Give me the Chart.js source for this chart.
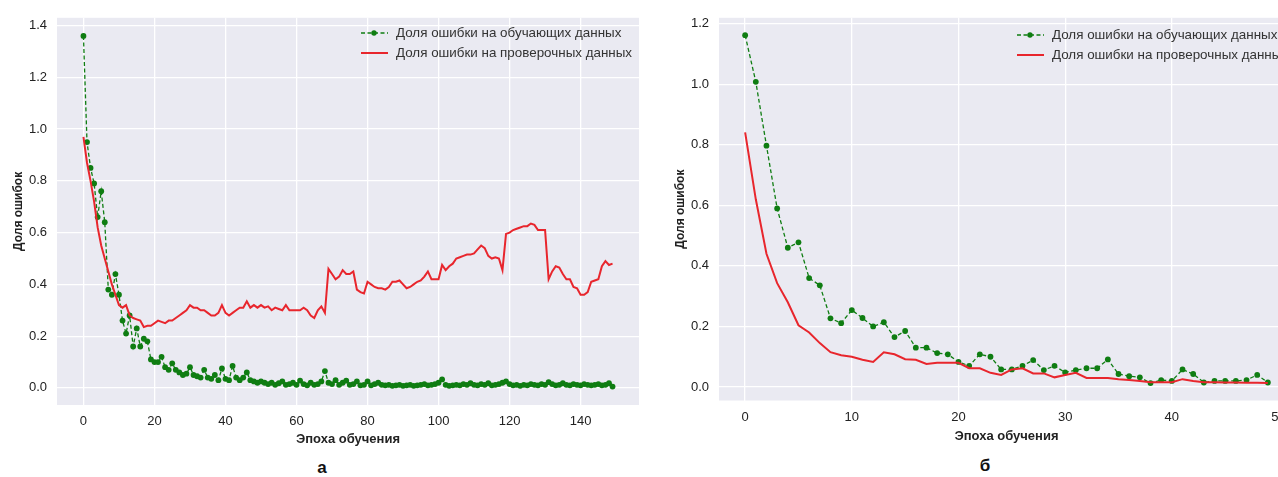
<!DOCTYPE html>
<html>
<head>
<meta charset="utf-8">
<script src="https://cdn.jsdelivr.net/npm/chart.js@4.4.1/dist/chart.umd.min.js"></script>
<style>
  body { margin: 0; width: 1278px; height: 477px; overflow: hidden; background: #fff; position: relative;
         font-family: "Liberation Sans", Arial, sans-serif; }
  canvas { position: absolute; top: 0; }
  .legend { position: absolute; font-size: 13.4px; color: #333; white-space: nowrap; }
  .legend div { height: 20px; line-height: 20px; }
  .legend svg { vertical-align: middle; margin-right: 8px; }
  .cap { position: absolute; font-weight: bold; font-size: 17px; color: #111; transform: translate(-50%, -50%); }
</style>
</head>
<body>
<canvas id="chartA" width="650" height="450" style="left:0px"></canvas>
<canvas id="chartB" width="650" height="450" style="left:660px"></canvas>
<div class="legend" id="legendA" style="left:361px;top:23px"></div>
<div class="legend" id="legendB" style="left:1017px;top:25px"></div>
<div class="cap" style="left:322px;top:468px">а</div>
<div class="cap" style="left:985px;top:466px">б</div>

<script>
var trainLabel = "Доля ошибки на обучающих данных";
var valLabel = "Доля ошибки на проверочных данных";
var xTitle = "Эпоха обучения";
var yTitle = "Доля ошибок";

// (а) 150 epochs
var trainA = [1.36, 0.95, 0.85, 0.79, 0.66, 0.76, 0.64, 0.38, 0.36, 0.44,
  0.36, 0.26, 0.21, 0.28, 0.16, 0.23, 0.16, 0.19, 0.18, 0.11,
  0.10, 0.10, 0.12, 0.08, 0.07, 0.095, 0.07, 0.06, 0.05, 0.055,
  0.08, 0.05, 0.045, 0.04, 0.07, 0.04, 0.035, 0.05, 0.03, 0.075,
  0.035, 0.03, 0.085, 0.04, 0.03, 0.04, 0.06, 0.03, 0.025, 0.02,
  0.025, 0.02, 0.015, 0.02, 0.012, 0.018, 0.025, 0.012, 0.015, 0.02,
  0.012, 0.028, 0.015, 0.01, 0.02, 0.012, 0.015, 0.025, 0.065, 0.02,
  0.015, 0.03, 0.012, 0.02, 0.028, 0.012, 0.015, 0.025, 0.01, 0.012,
  0.025, 0.01, 0.015, 0.02, 0.012, 0.01, 0.012, 0.008, 0.01, 0.012,
  0.008, 0.01, 0.012, 0.008, 0.01, 0.012, 0.015, 0.01, 0.012, 0.015,
  0.02, 0.033, 0.012, 0.008, 0.01, 0.012, 0.01, 0.015, 0.012, 0.018,
  0.012, 0.01, 0.015, 0.012, 0.018, 0.01, 0.012, 0.015, 0.02, 0.025,
  0.015, 0.01, 0.012, 0.008, 0.012, 0.01, 0.015, 0.012, 0.01, 0.015,
  0.012, 0.022, 0.015, 0.01, 0.012, 0.018, 0.012, 0.01, 0.015, 0.012,
  0.01, 0.015, 0.012, 0.01, 0.012, 0.015, 0.01, 0.012, 0.018, 0.005];
var valA = [0.97, 0.87, 0.80, 0.72, 0.62, 0.55, 0.50, 0.45, 0.40, 0.36,
  0.32, 0.31, 0.32, 0.28, 0.27, 0.265, 0.26, 0.235, 0.24, 0.24,
  0.25, 0.26, 0.255, 0.25, 0.26, 0.26, 0.27, 0.28, 0.29, 0.30,
  0.32, 0.31, 0.31, 0.30, 0.30, 0.29, 0.28, 0.28, 0.29, 0.32,
  0.29, 0.28, 0.29, 0.30, 0.31, 0.31, 0.335, 0.31, 0.32, 0.31,
  0.32, 0.31, 0.315, 0.30, 0.31, 0.305, 0.30, 0.32, 0.30, 0.30,
  0.30, 0.30, 0.31, 0.30, 0.28, 0.27, 0.30, 0.315, 0.29, 0.46,
  0.44, 0.42, 0.43, 0.455, 0.44, 0.44, 0.45, 0.38, 0.37, 0.365,
  0.41, 0.40, 0.39, 0.385, 0.385, 0.38, 0.39, 0.41, 0.41, 0.415,
  0.40, 0.385, 0.39, 0.40, 0.41, 0.415, 0.43, 0.45, 0.42, 0.42,
  0.42, 0.475, 0.455, 0.47, 0.48, 0.50, 0.505, 0.51, 0.515, 0.515,
  0.52, 0.535, 0.55, 0.54, 0.51, 0.50, 0.505, 0.50, 0.455, 0.595,
  0.60, 0.61, 0.615, 0.62, 0.625, 0.625, 0.635, 0.63, 0.61, 0.61,
  0.61, 0.42, 0.45, 0.47, 0.465, 0.44, 0.42, 0.42, 0.39, 0.385,
  0.36, 0.36, 0.37, 0.41, 0.415, 0.42, 0.47, 0.49, 0.475, 0.48];

// (б) 50 epochs
var trainB = [1.162, 1.008, 0.797, 0.59, 0.46, 0.478, 0.36, 0.336, 0.227, 0.211,
  0.254, 0.228, 0.2, 0.214, 0.165, 0.185, 0.13, 0.13, 0.112, 0.108,
  0.083, 0.07, 0.108, 0.1, 0.058, 0.058, 0.07, 0.089, 0.056, 0.07,
  0.048, 0.056, 0.062, 0.062, 0.091, 0.043, 0.036, 0.032, 0.013, 0.023,
  0.02, 0.058, 0.043, 0.015, 0.02, 0.02, 0.02, 0.023, 0.04, 0.015];
var valB = [0.841, 0.62, 0.44, 0.343, 0.28, 0.204, 0.18, 0.145, 0.115, 0.105,
  0.1, 0.09, 0.083, 0.115, 0.108, 0.092, 0.09, 0.076, 0.08, 0.08,
  0.08, 0.062, 0.062, 0.047, 0.04, 0.058, 0.062, 0.045, 0.045, 0.032,
  0.04, 0.047, 0.03, 0.03, 0.03, 0.026, 0.023, 0.02, 0.016, 0.016,
  0.016, 0.026, 0.02, 0.016, 0.016, 0.015, 0.015, 0.014, 0.014, 0.013];

var epochsA = trainA.map(function (v, i) { return i; });
var epochsB = trainB.map(function (v, i) { return i; });

var green = '#0f7d12';
var red = '#e8262d';
var tickFont = { family: '"Liberation Sans", Arial, sans-serif', size: 13 };
var titleFont = { family: '"Liberation Sans", Arial, sans-serif', size: 13, weight: 'bold' };

// seaborn-like grey plot background
var plotBg = {
  id: 'plotBg',
  beforeDraw: function (chart) {
    var a = chart.chartArea, c = chart.ctx;
    c.save();
    c.fillStyle = '#eaeaf2';
    c.fillRect(a.left, a.top, a.right - a.left, a.bottom - a.top);
    c.restore();
  }
};

function points(xs, ys) {
  return ys.map(function (v, i) { return { x: xs[i], y: v }; });
}

function makeChart(id, xs, train, val, opt) {
  return new Chart(document.getElementById(id), {
    type: 'line',
    data: {
      datasets: [{
        label: trainLabel,
        data: points(xs, train),
        borderColor: green,
        backgroundColor: green,
        borderWidth: 1.3,
        borderDash: [4, 2.5],
        pointRadius: 2.9,
        pointBorderWidth: 0,
        pointBackgroundColor: green,
        order: 2
      }, {
        label: valLabel,
        data: points(xs, val),
        borderColor: red,
        backgroundColor: red,
        borderWidth: 2,
        pointRadius: 0,
        order: 1
      }]
    },
    options: {
      responsive: false,
      animation: false,
      layout: { padding: { top: opt.top, right: opt.right, left: 0, bottom: 0 } },
      plugins: { legend: { display: false }, tooltip: { enabled: false } },
      scales: {
        x: {
          type: 'linear', min: opt.xMin, max: opt.xMax,
          border: { display: false },
          grid: { color: '#ffffff', lineWidth: 1.3, drawTicks: false },
          ticks: { stepSize: opt.xStep, includeBounds: false, color: '#222', font: tickFont, padding: 9, maxRotation: 0 },
          title: { display: true, text: xTitle, color: '#222', font: titleFont, padding: { top: 0, bottom: opt.xTitlePad } },
          afterFit: function (s) { s.height = opt.xAxisH; }
        },
        y: {
          type: 'linear', min: opt.yMin, max: opt.yMax,
          border: { display: false },
          grid: { color: '#ffffff', lineWidth: 1.3, drawTicks: false },
          ticks: { stepSize: 0.2, includeBounds: false, color: '#222', font: tickFont, padding: 10,
                   callback: function (v) { return v.toFixed(1); } },
          title: { display: true, text: yTitle, color: '#222', font: { family: titleFont.family, size: 12, weight: 'bold' }, padding: { top: opt.yTitlePad, bottom: 0 } },
          afterFit: function (s) { s.width = opt.yAxisW; }
        }
      }
    },
    plugins: [plotBg]
  });
}

var chartA = makeChart('chartA', epochsA, trainA, valA, {
  xMin: -7.45, xMax: 156.45, xStep: 20, yMin: -0.066, yMax: 1.43,
  top: 12, right: 11, xAxisH: 45, yAxisW: 57, xTitlePad: 3, yTitlePad: 11
});
var chartB = makeChart('chartB', epochsB, trainB, valB, {
  xMin: -2.45, xMax: 51.45, xStep: 10, yMin: -0.0445, yMax: 1.2195,
  top: 17, right: 16, xAxisH: 49.5, yAxisW: 59, xTitlePad: 6, yTitlePad: 13
});

// matplotlib-style legend: line sample with marker, then label
function buildLegend(el, chart) {
  chart.data.datasets.forEach(function (ds) {
    var row = document.createElement('div');
    var dash = ds.borderDash ? ' stroke-dasharray="4 2.5"' : '';
    var dot = ds.pointRadius ? '<circle cx="13" cy="5" r="2.7" fill="' + ds.borderColor + '"/>' : '';
    row.innerHTML = '<svg width="27" height="10"><line x1="0" y1="5" x2="27" y2="5" stroke="' + ds.borderColor +
      '" stroke-width="' + ds.borderWidth + '"' + dash + '/>' + dot + '</svg>' + ds.label;
    el.appendChild(row);
  });
}
buildLegend(document.getElementById('legendA'), chartA);
buildLegend(document.getElementById('legendB'), chartB);
</script>
</body>
</html>
